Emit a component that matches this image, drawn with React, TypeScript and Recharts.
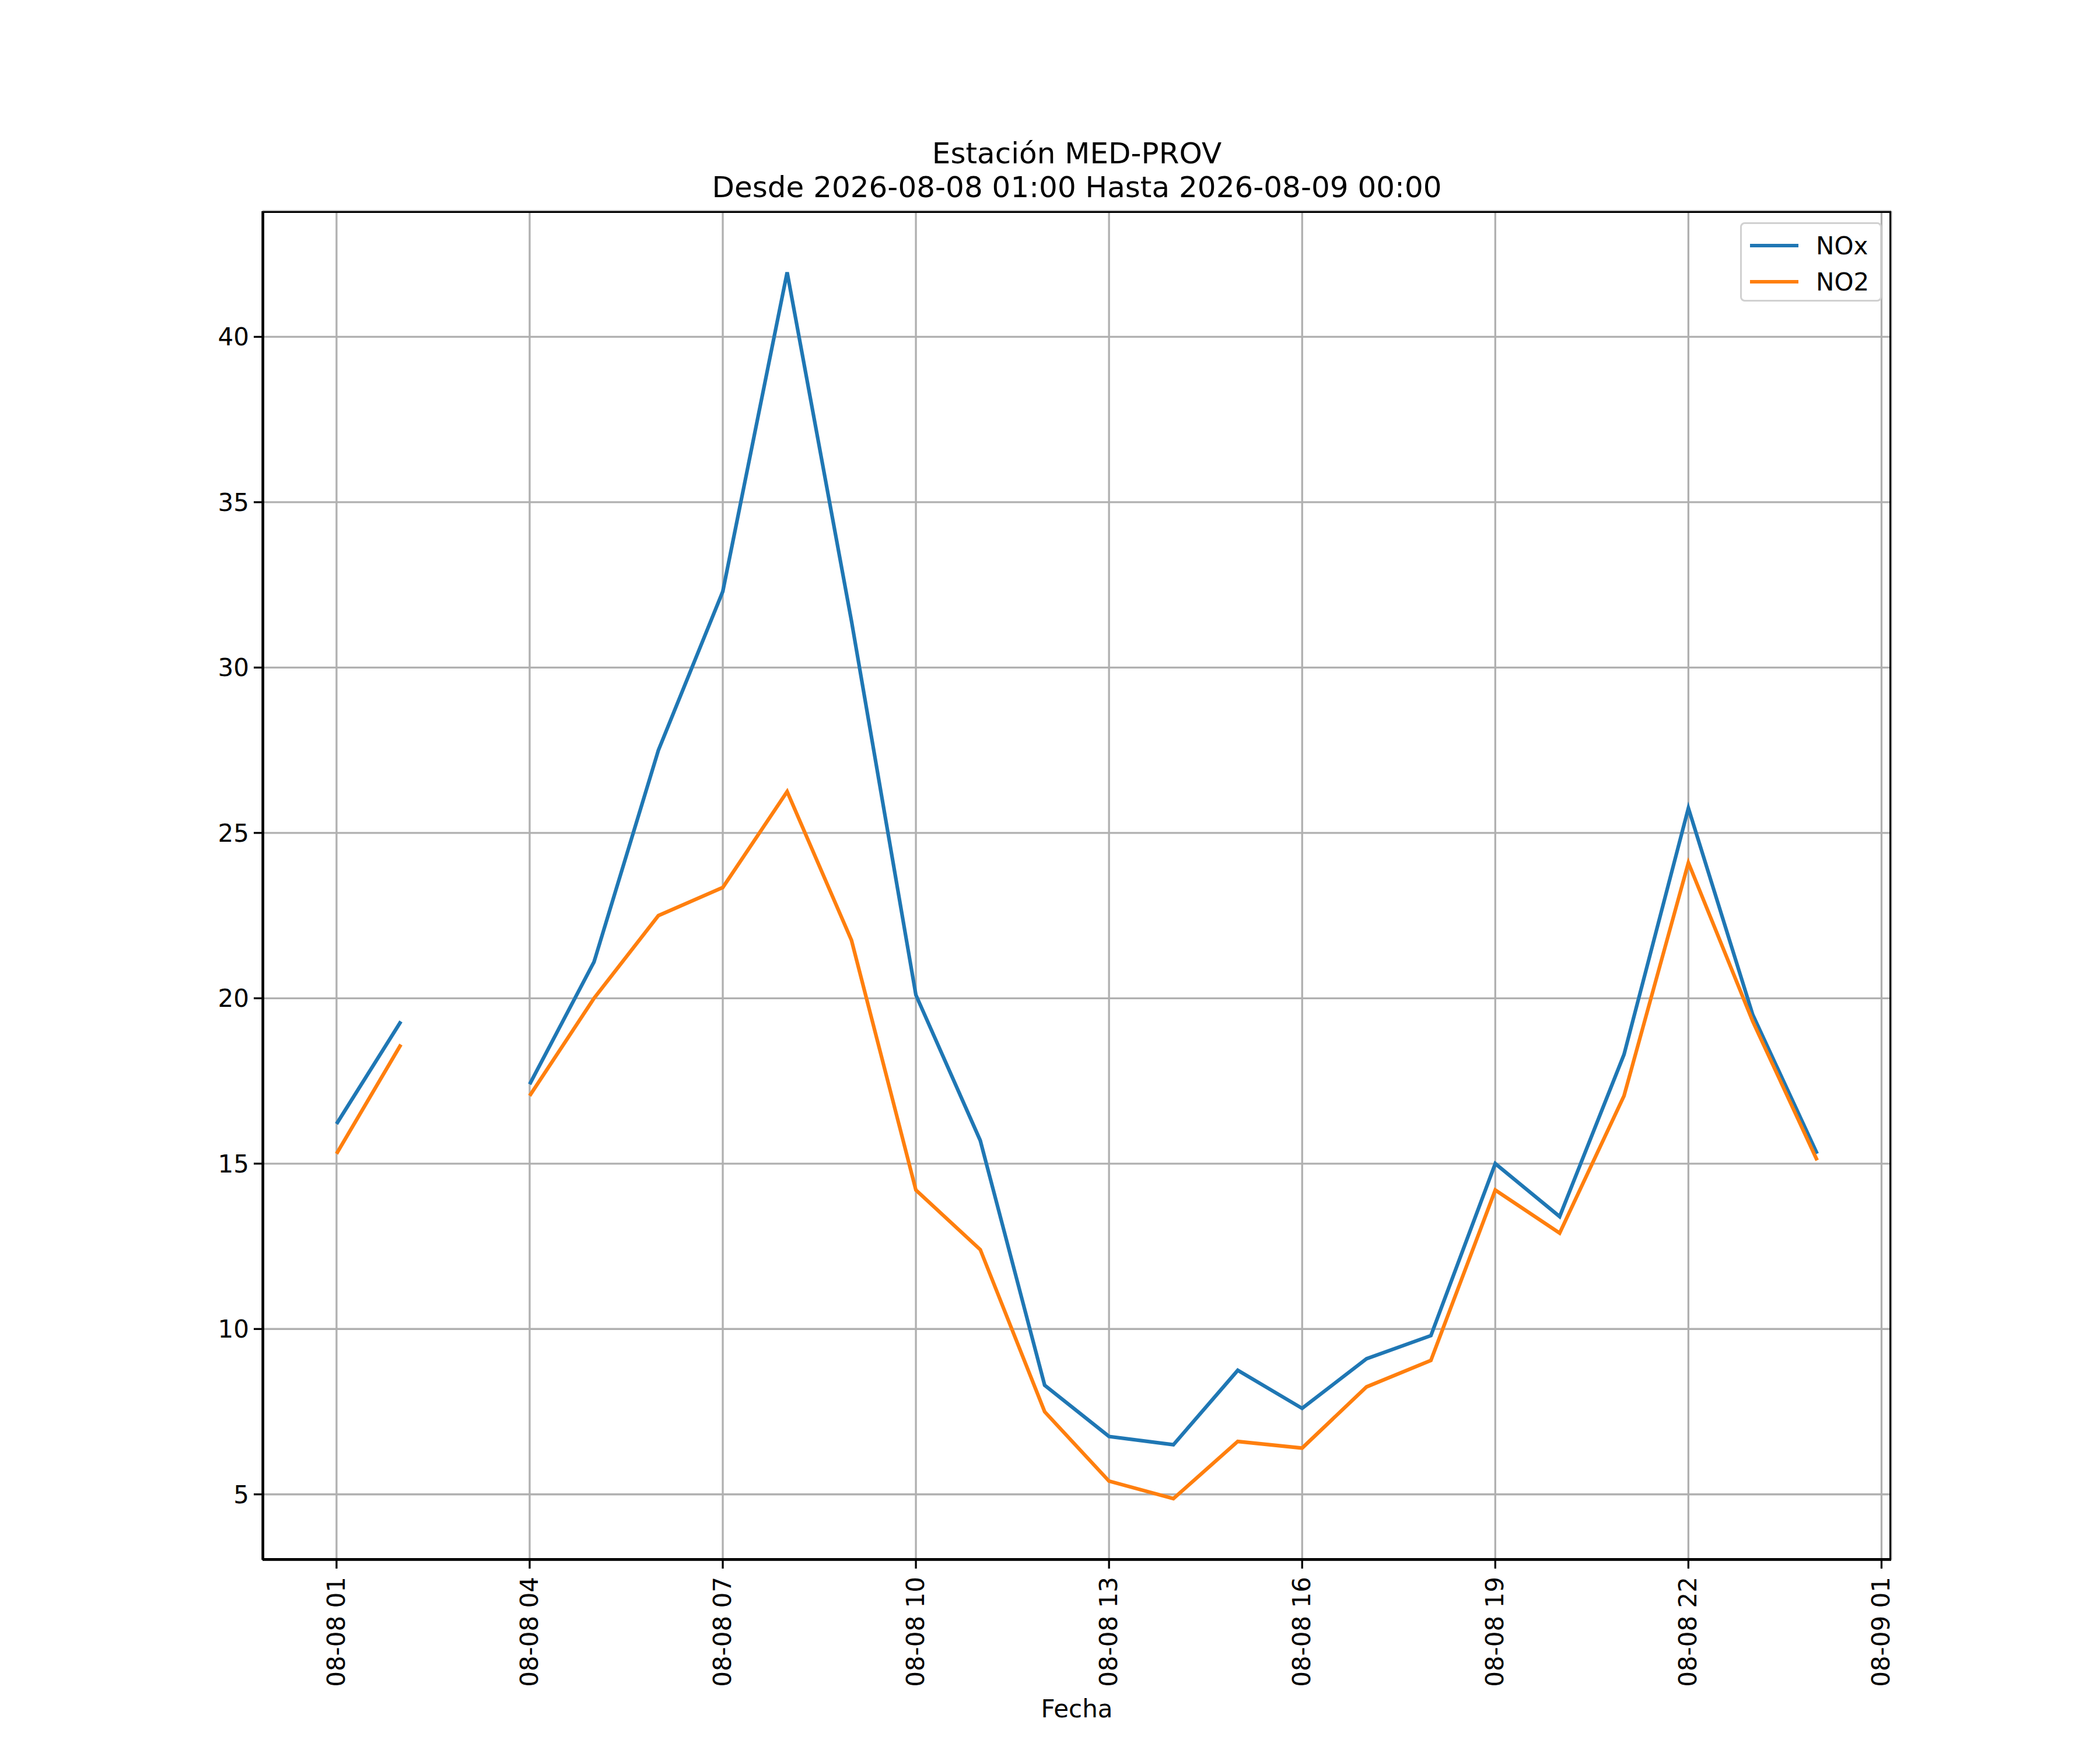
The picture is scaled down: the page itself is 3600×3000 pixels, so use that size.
import React from "react";
import { LineChart, Line, XAxis, YAxis, CartesianGrid } from "recharts";

const hours = [1,2,3,4,5,6,7,8,9,10,11,12,13,14,15,16,17,18,19,20,21,22,23,24];
const noxValues = [16.2,19.3,null,17.4,21.1,27.5,32.3,41.95,31.4,20.1,15.7,8.3,6.75,6.5,8.75,7.6,9.1,9.8,15.0,13.4,18.3,25.75,19.5,15.3];
const no2Values = [15.3,18.6,null,17.05,20.0,22.5,23.35,26.25,21.75,14.2,12.4,7.5,5.4,4.87,6.6,6.4,8.25,9.05,14.2,12.9,17.05,24.1,19.3,15.1];
const xTicks = [1,4,7,10,13,16,19,22,25];
const xTickLabels = ["08-08 01","08-08 04","08-08 07","08-08 10","08-08 13","08-08 16","08-08 19","08-08 22","08-09 01"];
const yTicks = [5,10,15,20,25,30,35,40];

const data = hours.map((h, i) => ({ h, NOx: noxValues[i], NO2: no2Values[i] }));

const L = 450, T = 362, R = 3242, B = 2674;
const font = "'DejaVu Sans', sans-serif";

const XTick = (p: any) => {
  const idx = xTicks.indexOf(p.payload.value);
  return (
    <g transform={`translate(${p.x},${p.y})`}>
      <line x1={0} y1={-p.y + B} x2={0} y2={-p.y + B + 15} stroke="#000" strokeWidth={3.3} />
      <text transform={`translate(14,${B - p.y + 29}) rotate(-90)`} textAnchor="end" fontSize={42} fontFamily={font} fill="#000">
        {xTickLabels[idx]}
      </text>
    </g>
  );
};

export default function App() {
  return (
    <div style={{ position: "absolute", left: 0, top: 0, width: 3600, height: 3000, background: "#fff", fontFamily: font }}>
      <div style={{ position: "absolute", left: 0, width: 3692, top: 234, textAlign: "center", fontSize: 50, lineHeight: "58px" }}>
        Estación MED-PROV<br />Desde 2026-08-08 01:00 Hasta 2026-08-09 00:00
      </div>
      <LineChart width={3600} height={3000} data={data}
        margin={{ top: T, right: 3600 - R, left: L - 100, bottom: 3000 - B - 230 }}>
        <CartesianGrid stroke="#b0b0b0" strokeWidth={3.3} />
        <XAxis dataKey="h" type="number" domain={[-0.15, 25.15]} ticks={xTicks} height={230}
          axisLine={{ stroke: "#000", strokeWidth: 3.3 }} tickLine={false} tick={<XTick />} interval={0} allowDataOverflow />
        <YAxis type="number" domain={[3.02, 43.8]} ticks={yTicks} width={100} allowDataOverflow
          axisLine={{ stroke: "#000", strokeWidth: 3.3 }} tickLine={{ stroke: "#000", strokeWidth: 3.3 }} tickSize={15}
          tick={{ fontSize: 42, fill: "#000", fontFamily: font, dx: -6 }} />
        <Line dataKey="NOx" stroke="#1f77b4" strokeWidth={6.25} dot={false} isAnimationActive={false} />
        <Line dataKey="NO2" stroke="#ff7f0e" strokeWidth={6.25} dot={false} isAnimationActive={false} />
      </LineChart>
      <div style={{ position: "absolute", left: L, top: T, width: R - L, height: B - T, border: "3.3px solid #000", boxSizing: "border-box", pointerEvents: "none" }} />
      <div style={{ position: "absolute", left: 0, width: 3692, top: 2905, textAlign: "center", fontSize: 42 }}>Fecha</div>
      <div style={{ position: "absolute", left: 2983, top: 381, width: 243, height: 136, border: "3px solid #d0d0d0", borderRadius: 8, boxSizing: "border-box", background: "#fff", fontSize: 42 }}>
        {[["NOx", "#1f77b4"], ["NO2", "#ff7f0e"]].map(([n, c], i) => (
          <div key={n} style={{ position: "absolute", left: 14, top: 12 + i * 62, display: "flex", alignItems: "center", height: 50 }}>
            <div style={{ width: 83, height: 6, background: c, marginRight: 30 }} />
            <span>{n}</span>
          </div>
        ))}
      </div>
    </div>
  );
}
